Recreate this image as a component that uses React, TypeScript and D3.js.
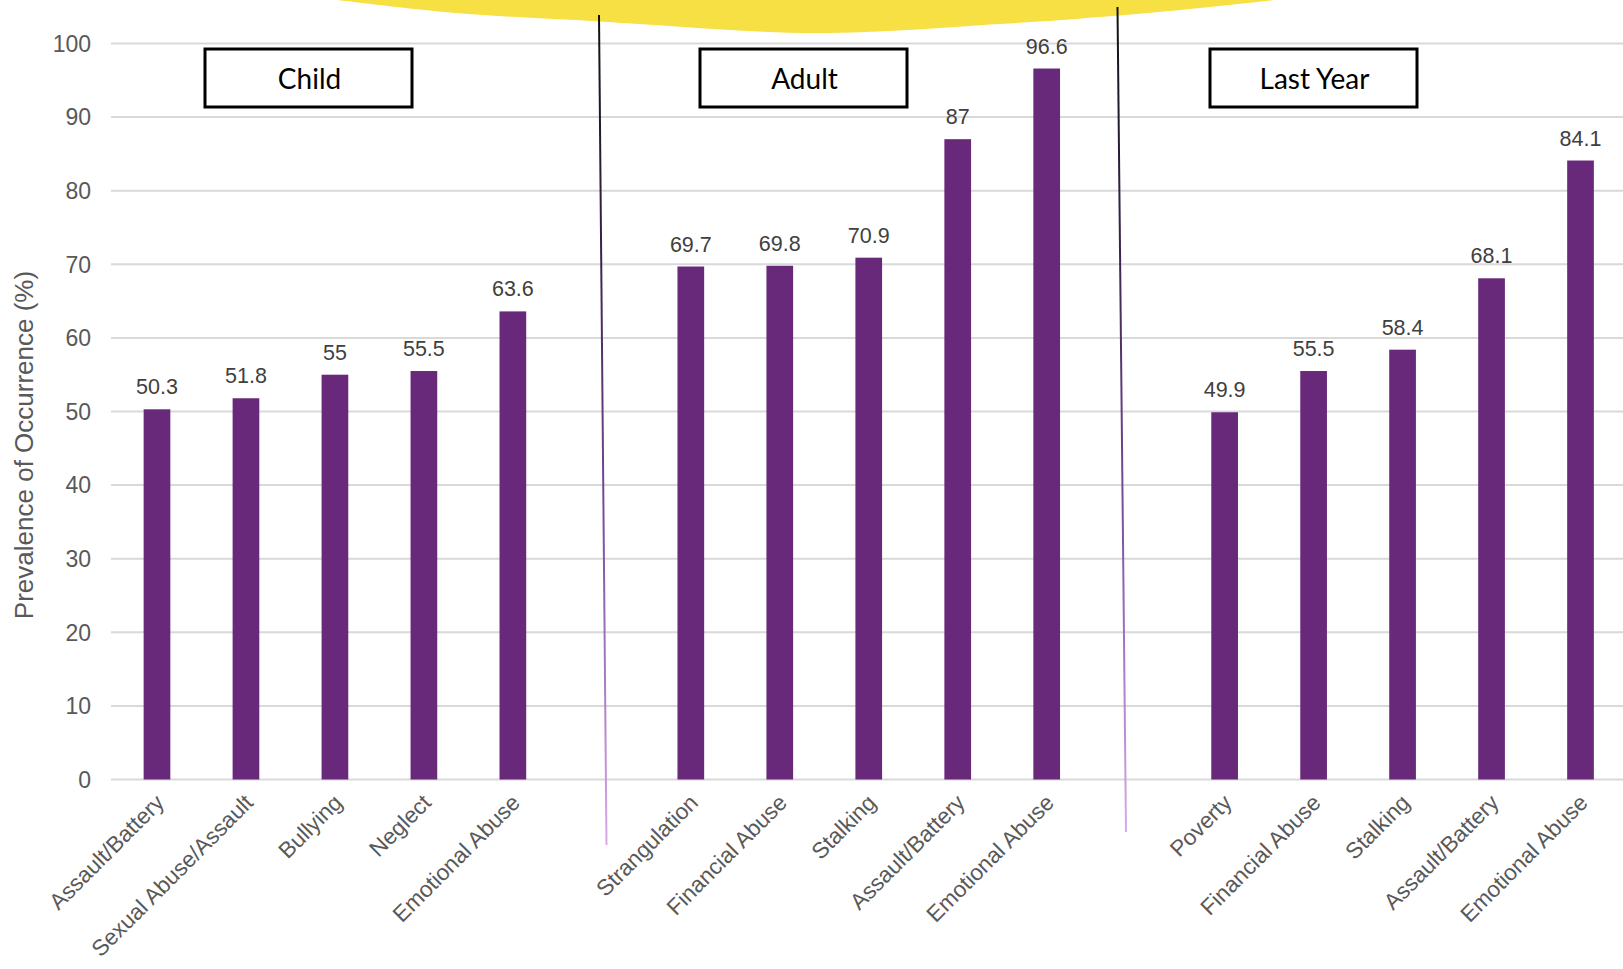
import React from "react";
import * as d3 from "d3";

const groups = ["Child", "Adult", "Last Year"];
const childCats = ["Assault/Battery", "Sexual Abuse/Assault", "Bullying", "Neglect", "Emotional Abuse"];
const childVals = [50.3, 51.8, 55, 55.5, 63.6];
const adultCats = ["Strangulation", "Financial Abuse", "Stalking", "Assault/Battery", "Emotional Abuse"];
const adultVals = [69.7, 69.8, 70.9, 87, 96.6];
const lastYearCats = ["Poverty", "Financial Abuse", "Stalking", "Assault/Battery", "Emotional Abuse"];
const lastYearVals = [49.9, 55.5, 58.4, 68.1, 84.1];
const yTicks = [0, 10, 20, 30, 40, 50, 60, 70, 80, 90, 100];
const yTitle = "Prevalence of Occurrence (%)";

const W = 1623;
const H = 969;
const BAR = "#68297a";
const FONT = "'Liberation Sans', Arial, sans-serif";

type Bar = { key: string; cat: string; value: number };

const seriesByGroup = [
  { cats: childCats, vals: childVals },
  { cats: adultCats, vals: adultVals },
  { cats: lastYearCats, vals: lastYearVals },
];

const bars: Bar[] = [];
const slots: string[] = [];
seriesByGroup.forEach((s, gi) => {
  if (gi > 0) slots.push(`gap${gi}`);
  s.cats.forEach((c, i) => {
    const key = `${groups[gi]}|${c}`;
    slots.push(key);
    bars.push({ key, cat: c, value: s.vals[i] });
  });
});

export default function App() {
  const x = d3.scaleBand<string>().domain(slots).range([112.5, 1625]).paddingInner(0.7).paddingOuter(0.35);
  const y = d3.scaleLinear().domain([0, 100]).range([779.5, 43.5]);

  const yellow = d3.line<[number, number]>().curve(d3.curveCatmullRom.alpha(0.5))([
    [322, -2], [450, 12.5], [600, 21.5], [815, 33], [1000, 24], [1100, 17], [1200, 8], [1292, -2],
  ]);

  const boxes = [
    { label: groups[0], x0: 205, x1: 412 },
    { label: groups[1], x0: 700, x1: 907 },
    { label: groups[2], x0: 1210, x1: 1417 },
  ];
  const dividers = [
    { x1: 599, y1: 15, x2: 606.5, y2: 845 },
    { x1: 1117.5, y1: 7, x2: 1126, y2: 832 },
  ];

  return (
    <svg width={W} height={H} style={{ position: "absolute", left: 0, top: 0, background: "#fff" }}>
      <defs>
        <linearGradient id="divgrad" x1="0" y1="0" x2="0" y2="1">
          <stop offset="0" stopColor="#111111" />
          <stop offset="0.3" stopColor="#3a2550" />
          <stop offset="0.6" stopColor="#7a4c98" />
          <stop offset="1" stopColor="#d9a9ec" />
        </linearGradient>
      </defs>
      <path d={yellow ?? ""} fill="#f7e044" />
      {yTicks.map((t) => (
        <g key={t}>
          <line x1={111} x2={W} y1={y(t)} y2={y(t)} stroke="#d9d9d9" strokeWidth={2} />
          <text x={91} y={y(t)} dy="0.36em" textAnchor="end" fontFamily={FONT} fontSize={23} fill="#595959">
            {t}
          </text>
        </g>
      ))}
      <text
        transform={`translate(24,445) rotate(-90)`}
        textAnchor="middle"
        dy="0.35em"
        fontFamily={FONT}
        fontSize={26}
        fill="#595959"
      >
        {yTitle}
      </text>
      {bars.map((b) => {
        const bx = x(b.key)!;
        const cx = bx + x.bandwidth() / 2;
        return (
          <g key={b.key}>
            <rect x={bx} y={y(b.value)} width={x.bandwidth()} height={y(0) - y(b.value)} fill={BAR} />
            <text x={cx} y={y(b.value) - 15} textAnchor="middle" fontFamily={FONT} fontSize={21.5} fill="#404040">
              {String(b.value)}
            </text>
            <text
              transform={`translate(${cx + 3},${y(0) + 19}) rotate(-45)`}
              textAnchor="end"
              dy="0.35em"
              fontFamily={FONT}
              fontSize={22.5}
              fill="#595959"
            >
              {b.cat}
            </text>
          </g>
        );
      })}
      {dividers.map((d, i) => (
        <rect
          key={i}
          x={d.x1 - 1}
          y={d.y1}
          width={2}
          height={d.y2 - d.y1}
          fill="url(#divgrad)"
          transform={`rotate(${(-Math.atan2(d.x2 - d.x1, d.y2 - d.y1) * 180) / Math.PI},${d.x1},${d.y1})`}
        />
      ))}
      {boxes.map((b) => (
        <g key={b.label}>
          <rect x={b.x0} y={49} width={b.x1 - b.x0} height={58} fill="#fff" stroke="#000" strokeWidth={3} />
          <text x={(b.x0 + b.x1) / 2 + 1} y={89} textAnchor="middle" fontFamily="Lato, sans-serif" fontSize={28} fill="#000">
            {b.label}
          </text>
        </g>
      ))}
    </svg>
  );
}
